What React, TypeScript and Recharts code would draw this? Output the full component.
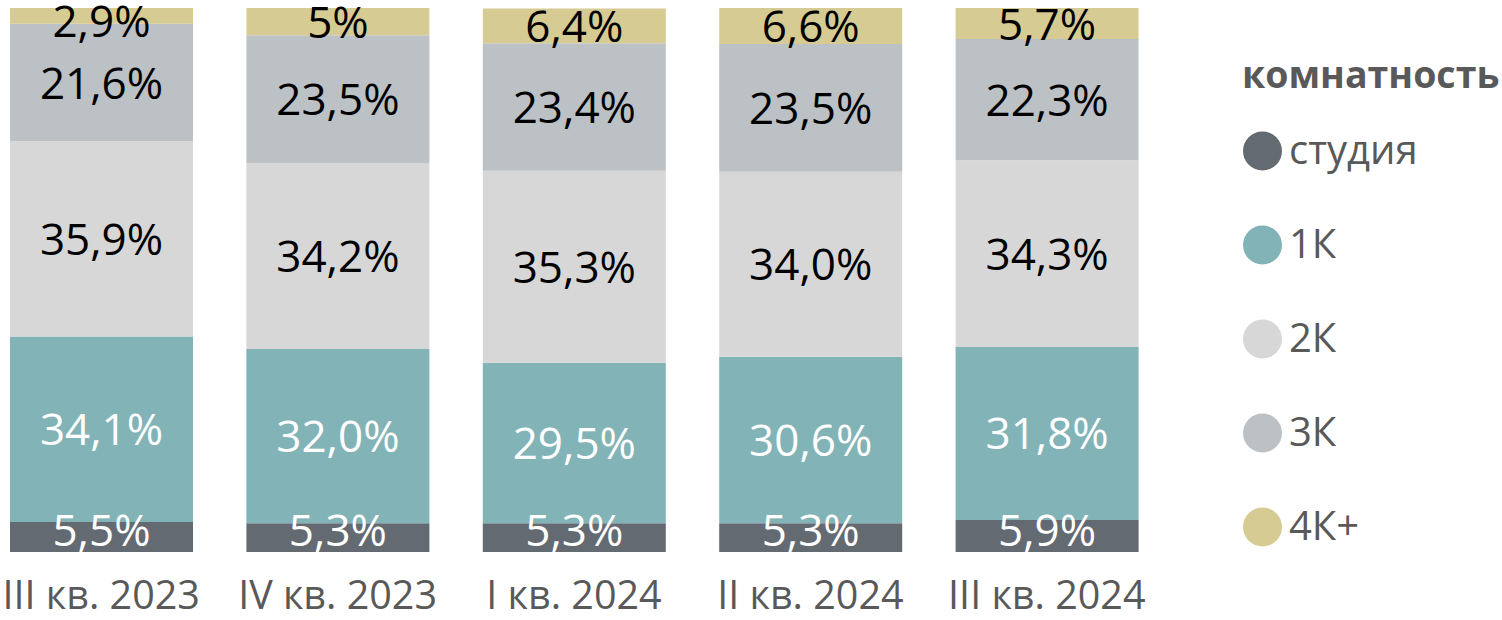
import React from "react";
import { BarChart, Bar, XAxis, YAxis, LabelList, Legend } from "recharts";

const categories = ["III кв. 2023", "IV кв. 2023", "I кв. 2024", "II кв. 2024", "III кв. 2024"];
const studio = [5.5, 5.3, 5.3, 5.3, 5.9];
const oneRoom = [34.1, 32.0, 29.5, 30.6, 31.8];
const twoRoom = [35.9, 34.2, 35.3, 34.0, 34.3];
const threeRoom = [21.6, 23.5, 23.4, 23.5, 22.3];
const fourPlus = [2.9, 5, 6.4, 6.6, 5.7];

const seriesNames = ["студия", "1К", "2К", "3К", "4К+"];
const seriesColors = ["#646a71", "#82b3b7", "#d7d7d7", "#bcc1c5", "#d6cc93"];
const labelColors = ["#ffffff", "#ffffff", "#000000", "#000000", "#000000"];
const legendTitle = "комнатность";

const keys = ["s0", "s1", "s2", "s3", "s4"];
const seriesValues = [studio, oneRoom, twoRoom, threeRoom, fourPlus];

const data = categories.map((c, i) => {
  const row: any = { name: c };
  keys.forEach((k, j) => {
    row[k] = seriesValues[j][i];
  });
  return row;
});

const FONT = "'Open Sans', sans-serif";
const MARGIN = { top: 8, left: 0, right: 337, bottom: 8 };
const CHART_H = 620;
const AXIS_H = 60;
const PLOT_TOP = MARGIN.top;
const PLOT_BOTTOM = CHART_H - MARGIN.bottom - AXIS_H;

const fmt = (v: number) =>
  Number.isInteger(v) && v < 10 ? `${v}%` : v.toFixed(1).replace(".", ",") + "%";

const makeLabel = (color: string) => (props: any) => {
  const { x, y, width, height, value } = props;
  // keep label inside plot area (like Excel does)
  const cy = Math.min(Math.max(y + height / 2, PLOT_TOP + 13), PLOT_BOTTOM - 22);
  return (
    <text
      x={x + width / 2}
      y={cy + 16}
      textAnchor="middle"
      fill={color}
      fontSize={44}
      fontFamily={FONT}
    >
      {fmt(Number(value))}
    </text>
  );
};

const Tick = (props: any) => {
  const { x, y, payload } = props;
  return (
    <text x={x} y={y + 48.5} textAnchor="middle" fill="#595959" fontSize={39.5} fontFamily={FONT}>
      {payload.value}
    </text>
  );
};

const LegendContent = () => {
  return (
    <svg width={262} height={620} style={{ overflow: "visible", display: "block" }}>
      <text x={0} y={88} fill="#595959" fontSize={37.5} fontWeight={700} fontFamily={FONT}>
        {legendTitle}
      </text>
      {seriesNames.map((n, i) => {
        const cy = 151 + i * 94;
        return (
          <g key={i}>
            <circle cx={20.5} cy={cy} r={19.5} fill={seriesColors[i]} />
            <text x={47} y={cy + 13} fill="#595959" fontSize={40} fontFamily={FONT}>
              {n}
            </text>
          </g>
        );
      })}
    </svg>
  );
};

export default function App() {
  return (
    <div style={{ position: "absolute", left: -17, top: 0, width: 1519, height: CHART_H }}>
      <BarChart width={1519} height={CHART_H} data={data} margin={MARGIN} barSize={183}>
        <XAxis
          dataKey="name"
          height={AXIS_H}
          axisLine={false}
          tickLine={false}
          tick={<Tick />}
          interval={0}
        />
        <YAxis hide domain={[0, 100]} type="number" />
        <Legend
          layout="vertical"
          align="center"
          verticalAlign="middle"
          wrapperStyle={{ position: "absolute", left: 1259, top: 0, width: 262, height: 620 }}
          content={<LegendContent />}
        />
        {keys.map((k, j) => (
          <Bar
            key={k}
            dataKey={k}
            name={seriesNames[j]}
            stackId="a"
            fill={seriesColors[j]}
            isAnimationActive={false}
          >
            <LabelList dataKey={k} content={makeLabel(labelColors[j])} />
          </Bar>
        ))}
      </BarChart>
    </div>
  );
}
